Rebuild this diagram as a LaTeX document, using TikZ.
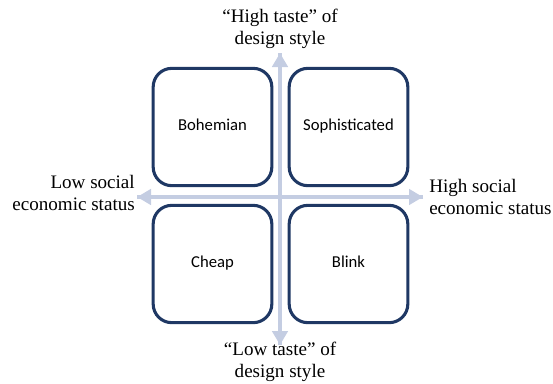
\documentclass[tikz,border=0pt]{standalone}
\usepackage{fontspec}
\setmainfont{Liberation Serif}
\newfontfamily\boxfont{Carlito}
\usetikzlibrary{arrows.meta}

\begin{document}
\begin{tikzpicture}[x=0.75pt,y=0.75pt,yscale=-1,xscale=1,
	quad/.style={draw={rgb, 255:red, 31; green, 56; blue, 100 },line width=2.3pt,rounded corners=14pt,fill=white,minimum width=89pt,minimum height=88pt,text height=1.6ex,text depth=0.4ex,font=\boxfont\fontsize{12.5}{14}\selectfont},
	axis/.style={draw={rgb, 255:red, 196; green, 205; blue, 226 },line width=3.5pt,-{Triangle[width=11.5pt,length=10.5pt]}},
	lbl/.style={inner sep=0.75pt,font=\fontsize{14.3}{16.5}\selectfont}]
	\useasboundingbox (0,0) rectangle (553,383);
	
	%Axes
	\coordinate (up) at (280,53) ;
	\coordinate (down) at (280,345) ;
	\coordinate (left) at (137,197) ;
	\coordinate (right) at (423,197) ;
	\draw [axis]   (down) -- (up) ;
	\draw [axis]   (right) -- (left) ;
	\draw [axis]   (left) -- (right) ;
	\draw [axis]   (up) -- (down) ;
	
	%Quadrants
	\node [quad] (bohemian) at (212.5,127) {Bohemian};
	\node [quad] (sophisticated) at (348.5,127) {Sophisticated};
	\node [quad] (cheap) at (212.5,264) {Cheap};
	\node [quad] (blink) at (348.5,264) {Blink};
	
	% Text Node
	\node [lbl,align=center] (hightaste) at (280,29) {“High taste” of\\design style};
	% Text Node
	\node [lbl,align=center] (lowtaste) at (280,362) {“Low taste” of\\design style};
	% Text Node
	\node [lbl,align=right,anchor=east] (lowstatus) at (136,193) {Low social\\economic status};
	% Text Node
	\node [lbl,align=left,anchor=west] (highstatus) at (428,197) {High social\\economic status};
	
\end{tikzpicture}
\end{document}
